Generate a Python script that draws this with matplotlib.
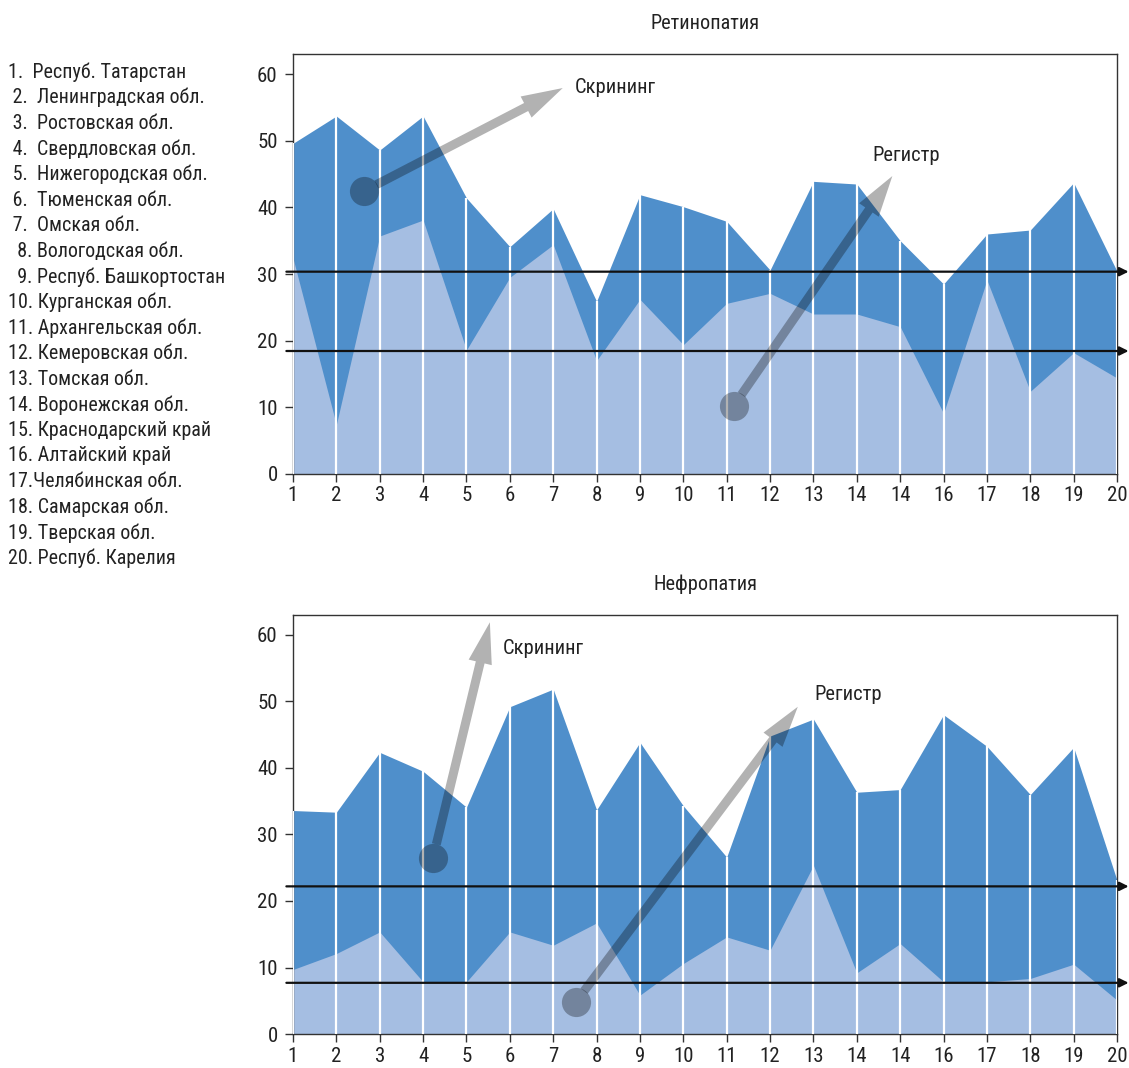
import matplotlib.pyplot as plt
from matplotlib.patches import FancyArrowPatch

plt.rcParams['font.family'] = ['Roboto Condensed', 'DejaVu Sans']

regions = [
    "1.  Респуб. Татарстан",
    " 2.  Ленинградская обл.",
    " 3.  Ростовская обл.",
    " 4.  Свердловская обл.",
    " 5.  Нижегородская обл.",
    " 6.  Тюменская обл.",
    " 7.  Омская обл.",
    "  8. Вологодская обл.",
    "  9. Респуб. Башкортостан",
    "10. Курганская обл.",
    "11. Архангельская обл.",
    "12. Кемеровская обл.",
    "13. Томская обл.",
    "14. Воронежская обл.",
    "15. Краснодарский край",
    "16. Алтайский край",
    "17.Челябинская обл.",
    "18. Самарская обл.",
    "19. Тверская обл.",
    "20. Респуб. Карелия",
]
x = list(range(1, 21))
tick_labels = ['1', '2', '3', '4', '5', '6', '7', '8', '9', '10',
               '11', '12', '13', '14', '14', '16', '17', '18', '19', '20']

# Ретинопатия
ret_screen = [49.6, 53.7, 48.6, 53.7, 41.4, 34.1, 39.8, 25.9, 41.9, 40.1,
              37.9, 30.6, 43.9, 43.5, 35.0, 28.5, 36.0, 36.6, 43.7, 30.4]
ret_register = [32.4, 7.4, 35.7, 38.1, 18.6, 29.5, 34.4, 17.0, 26.2, 19.4,
                25.6, 27.1, 24.0, 24.0, 22.1, 9.1, 29.1, 12.4, 18.2, 14.4]
ret_means = [30.35, 18.45]

# Нефропатия
nef_screen = [33.6, 33.35, 42.35, 39.5, 34.1, 49.2, 51.85, 33.7, 43.85, 34.3,
              26.6, 44.8, 47.35, 36.35, 36.75, 48.0, 43.25, 36.0, 43.1, 23.1]
nef_register = [9.7, 12.1, 15.35, 7.85, 7.85, 15.35, 13.35, 16.7, 5.85, 10.6,
                14.6, 12.6, 25.35, 9.2, 13.6, 7.85, 7.85, 8.35, 10.5, 5.1]
nef_means = [22.2, 7.7]

DARK = '#4f8fcb'
LIGHT = '#a5bee2'
INK = '#222222'


def pointer(ax, start, end, label, text_pos):
    ax.plot(*start, 'o', ms=21, color='black', alpha=0.3, mew=0, zorder=5)
    arr = FancyArrowPatch(start, end,
                          arrowstyle='simple,head_length=1.65,head_width=0.95,tail_width=0.36',
                          mutation_scale=18, color='black', alpha=0.3, lw=0,
                          shrinkA=10, shrinkB=0, zorder=5)
    ax.add_patch(arr)
    ax.text(*text_pos, label, fontsize=14.8, color=INK, ha='left', va='center')


def panel(ax, title, screen, register, means):
    ax.fill_between(x, 0, screen, color=DARK, lw=0, zorder=1)
    ax.fill_between(x, 0, register, color=LIGHT, lw=0, zorder=2)
    ax.vlines(x, 0, screen, color='white', lw=1.6, zorder=3)
    trans = ax.get_yaxis_transform()
    for m in means:
        ax.annotate('', xy=(1.014, m), xytext=(-0.008, m),
                    xycoords=trans, textcoords=trans,
                    arrowprops=dict(arrowstyle='-|>', color='#111111', lw=1.6,
                                    mutation_scale=13, shrinkA=0, shrinkB=0),
                    annotation_clip=False, zorder=4)
    ax.set_xlim(1, 20)
    ax.set_ylim(0, 63)
    ax.set_xticks(x)
    ax.set_xticklabels(tick_labels)
    ax.set_yticks([0, 10, 20, 30, 40, 50, 60])
    ax.tick_params(direction='out', length=6, width=1, color='#333333',
                   labelsize=15, labelcolor=INK)
    ax.tick_params(axis='x', pad=3)
    ax.tick_params(axis='y', pad=5)
    for s in ax.spines.values():
        s.set_color('#333333')
        s.set_linewidth(1)
    ax.set_title(title, fontsize=14.6, color=INK, pad=18)


fig = plt.figure(figsize=(11.29, 10.68), dpi=100)
ax1 = fig.add_axes([0.2595, 0.5562, 0.7299, 0.3932])
ax2 = fig.add_axes([0.2595, 0.0318, 0.7299, 0.3924])

panel(ax1, 'Ретинопатия', ret_screen, ret_register, ret_means)
pointer(ax1, (2.64, 42.45), (7.22, 57.9), 'Скрининг', (7.5, 58.0))
pointer(ax1, (11.16, 10.2), (14.82, 44.7), 'Регистр', (14.36, 47.8))

panel(ax2, 'Нефропатия', nef_screen, nef_register, nef_means)
pointer(ax2, (4.23, 26.5), (5.54, 61.9), 'Скрининг', (5.84, 57.9))
pointer(ax2, (7.52, 4.8), (12.64, 49.2), 'Регистр', (13.03, 51.1))

for i, name in enumerate(regions):
    fig.text(0.007, 1 - (72 + i * 25.6) / 1068, name, fontsize=14.4,
             color=INK, ha='left', va='center')

fig.savefig('out.png', dpi=100)
